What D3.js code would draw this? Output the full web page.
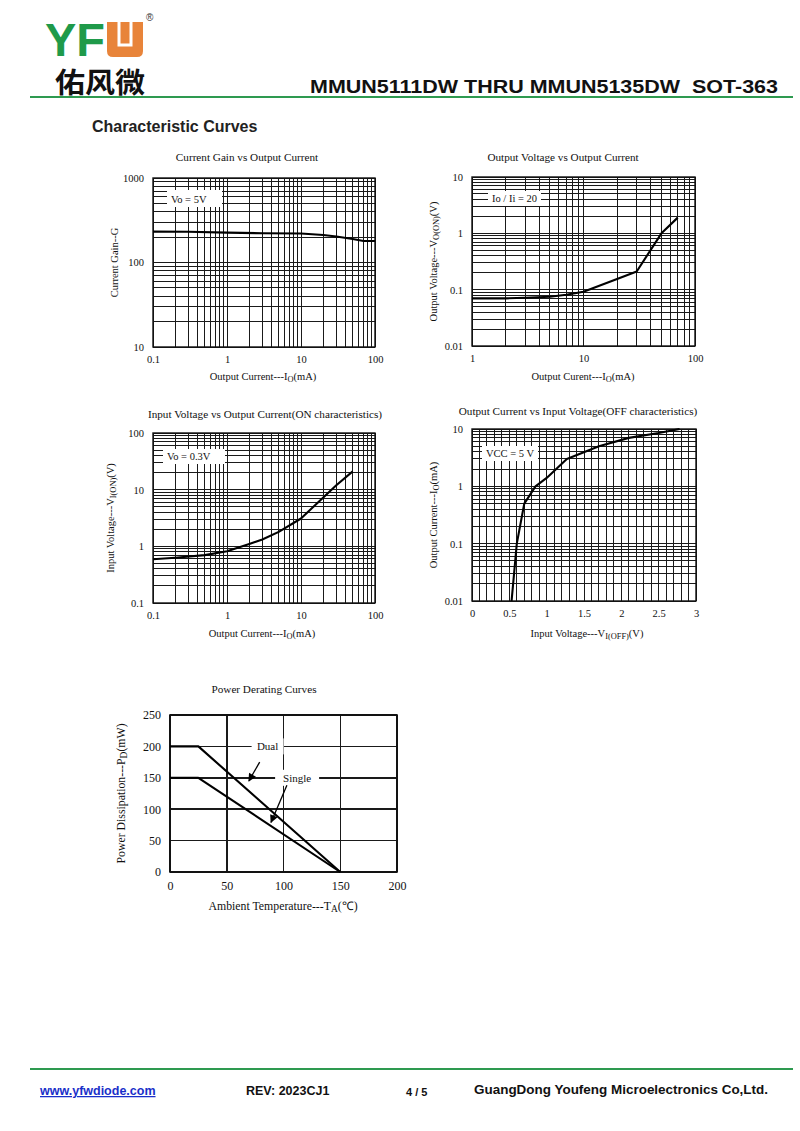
<!DOCTYPE html>
<html>
<head>
<meta charset="utf-8">
<script src="https://cdn.jsdelivr.net/npm/d3@7"></script>
<style>
  body { margin: 0; background: #fff; }
  svg { display: block; }
  .serif { font-family: "Liberation Serif", "Times New Roman", serif; }
  .sans { font-family: "Liberation Sans", Arial, sans-serif; }
</style>
</head>
<body>
<svg id="page" width="800" height="1131"></svg>
<script>
// ---- data ----
// 1) current gain vs output current (Vo = 5V)
const gainIo = [0.1, 0.3, 1, 3, 10, 20, 30, 50, 70, 100];
const gainHfe = [232, 231, 226, 222, 220, 212, 203, 190, 180, 180];

// 2) output voltage vs output current (Io/Ii = 20)
const vonIo = [1, 2, 3, 5, 7, 10, 20, 30, 50, 70];
const vonV = [0.07, 0.07, 0.072, 0.075, 0.081, 0.092, 0.155, 0.21, 1.0, 1.9];

// 3) input voltage vs output current, ON (Vo = 0.3V)
const vinIo = [0.1, 0.2, 0.5, 1, 2, 3, 5, 10, 20, 30, 50];
const vinV = [0.59, 0.63, 0.7, 0.82, 1.1, 1.32, 1.8, 3.1, 7.3, 12, 21];

// 4) output current vs input voltage, OFF (VCC = 5 V)
const offVin = [0.53, 0.6, 0.7, 0.85, 1.0, 1.27, 1.7, 2.1, 2.5, 2.78];
const offIo = [0.01, 0.1, 0.5, 1.0, 1.4, 3.0, 5.0, 7.0, 8.5, 10];

// 5) power derating
const tempTa = [0, 25, 150];
const dualPd = [200, 200, 0];
const singlePd = [150, 150, 0];
// annotation: label at (x,y), arrow from (x0,y0) to tip (x1,y1), in data units
const derNotes = [
  { text: "Dual", x: 86, y: 200, x0: 79, y0: 175, x1: 69.5, y1: 145 },
  { text: "Single", x: 112, y: 150, x0: 103, y0: 138, x1: 89, y1: 79 },
];

// tick labels
const logTicks1 = [0.1, 1, 10, 100];
const logTicksGain = [10, 100, 1000];
const logTicksX2 = [1, 10, 100];
const logTicksV = [0.01, 0.1, 1, 10];
const logTicksV3 = [0.1, 1, 10, 100];
const linTicksOff = [0, 0.5, 1, 1.5, 2, 2.5, 3];
const linTicksTa = [0, 50, 100, 150, 200];
const linTicksPd = [0, 50, 100, 150, 200, 250];

const svg = d3.select("#page");
svg.append("rect").attr("width", 800).attr("height", 1131).attr("fill", "#fff");

const fmt = (d) => String(d);

// text with subscript parts: [["text"], ["sub", true], ...]
function richText(g, parts, size) {
  const t = g.append("text").attr("class", "serif").attr("font-size", size).attr("fill", "#111");
  let sub = false;
  parts.forEach(([s, isSub]) => {
    const ts = t.append("tspan").text(s);
    if (isSub && !sub) ts.attr("dy", 2).attr("font-size", size * 0.8);
    if (!isSub && sub) ts.attr("dy", -2);
    sub = !!isSub;
  });
  return t;
}

function drawChart(c) {
  const [L, T, R, B] = c.box;
  const fs = c.fontSize || 10.5;
  const g = svg.append("g");
  const x = (c.xLog ? d3.scaleLog() : d3.scaleLinear()).domain(c.xDomain).range([L, R]);
  const y = (c.yLog ? d3.scaleLog() : d3.scaleLinear()).domain(c.yDomain).range([B, T]);

  // grid
  const xg = c.xGrid(x), yg = c.yGrid(y);
  g.append("g").selectAll("line").data(xg).join("line")
    .attr("x1", (d) => x(d)).attr("x2", (d) => x(d))
    .attr("y1", T).attr("y2", B)
    .attr("stroke", "#1a1a1a").attr("stroke-width", c.gridW)
    .attr("shape-rendering", "crispEdges");
  g.append("g").selectAll("line").data(yg).join("line")
    .attr("y1", (d) => y(d)).attr("y2", (d) => y(d))
    .attr("x1", L).attr("x2", R)
    .attr("stroke", "#1a1a1a").attr("stroke-width", c.gridW)
    .attr("shape-rendering", "crispEdges");
  g.append("rect").attr("x", L).attr("y", T).attr("width", R - L).attr("height", B - T)
    .attr("fill", "none").attr("stroke", "#111").attr("stroke-width", c.frameW);

  // legend box
  if (c.legend) {
    const lg = c.legend;
    g.append("rect").attr("x", L + lg.dx).attr("y", T + lg.dy)
      .attr("width", lg.w).attr("height", lg.h).attr("fill", "#fff");
    g.append("text").attr("class", "serif").attr("font-size", 10.5)
      .attr("x", L + lg.dx + 4).attr("y", T + lg.dy + lg.h - 4)
      .attr("fill", "#111").text(lg.text);
  }

  // curves
  const line = d3.line().x((d) => x(d[0])).y((d) => y(d[1]));
  c.series.forEach(([xs, ys]) => {
    g.append("path").datum(xs.map((v, i) => [v, ys[i]]))
      .attr("d", line).attr("fill", "none")
      .attr("stroke", "#000").attr("stroke-width", 2.1)
      .attr("stroke-linejoin", "round");
  });

  // axes (labels only)
  const xa = g.append("g").attr("transform", `translate(0,${B + 6})`)
    .call(d3.axisBottom(x).tickValues(c.xTicks).tickFormat(fmt).tickSize(0));
  const ya = g.append("g").attr("transform", `translate(${L - 6},0)`)
    .call(d3.axisLeft(y).tickValues(c.yTicks).tickFormat(fmt).tickSize(0));
  [xa, ya].forEach((a) => {
    a.select(".domain").remove();
    a.selectAll("text").attr("class", "serif").attr("font-size", c.tickSize || 10.5).attr("fill", "#111");
  });

  // title & axis labels
  g.append("text").attr("class", "serif").attr("font-size", 11.2).attr("fill", "#111")
    .attr("text-anchor", "middle").attr("x", c.title[1]).attr("y", c.title[2]).text(c.title[0]);
  richText(g, c.xLabel, fs).attr("text-anchor", "middle")
    .attr("x", c.xLabelPos[0]).attr("y", c.xLabelPos[1]);
  richText(g, c.yLabel, fs).attr("text-anchor", "middle")
    .attr("transform", `translate(${c.yLabelX},${(T + B) / 2}) rotate(-90)`);

  return { g, x, y };
}

const logGrid = (s) => s.ticks();

drawChart({
  box: [153, 178, 375, 347], xLog: true, yLog: true,
  xDomain: [0.1, 100], yDomain: [10, 1000],
  xGrid: logGrid, yGrid: logGrid, gridW: 1, frameW: 1.4,
  xTicks: logTicks1, yTicks: logTicksGain,
  series: [[gainIo, gainHfe]],
  legend: { text: "Vo = 5V", dx: 14, dy: 12, w: 55, h: 17 },
  title: ["Current Gain vs Output Current", 247, 161],
  xLabel: [["Output Current---I"], ["O", true], ["(mA)"]], xLabelPos: [263, 380],
  yLabel: [["Current Gain--G"]], yLabelX: 118,
});

drawChart({
  box: [472, 177, 695, 346], xLog: true, yLog: true,
  xDomain: [1, 100], yDomain: [0.01, 10],
  xGrid: logGrid, yGrid: logGrid, gridW: 1, frameW: 1.4,
  xTicks: logTicksX2, yTicks: logTicksV,
  series: [[vonIo, vonV]],
  legend: { text: "Io / Ii = 20", dx: 16, dy: 14, w: 53, h: 15 },
  title: ["Output Voltage vs Output Current", 563, 161],
  xLabel: [["Output Curent---I"], ["O", true], ["(mA)"]], xLabelPos: [583, 380],
  yLabel: [["Output Voltage---V"], ["O(ON)", true], ["(V)"]], yLabelX: 437,
});

drawChart({
  box: [153, 433, 375, 603], xLog: true, yLog: true,
  xDomain: [0.1, 100], yDomain: [0.1, 100],
  xGrid: logGrid, yGrid: logGrid, gridW: 1, frameW: 1.4,
  xTicks: logTicks1, yTicks: logTicksV3,
  series: [[vinIo, vinV]],
  legend: { text: "Vo = 0.3V", dx: 10, dy: 16, w: 62, h: 15 },
  title: ["Input Voltage vs Output Current(ON characteristics)", 265, 418],
  xLabel: [["Output Current---I"], ["O", true], ["(mA)"]], xLabelPos: [262, 637],
  yLabel: [["Input Voltage---V"], ["I(ON)", true], ["(V)"]], yLabelX: 114,
});

drawChart({
  box: [472, 429, 696, 601], xLog: false, yLog: true,
  xDomain: [0, 3], yDomain: [0.01, 10],
  xGrid: (s) => s.ticks(30), yGrid: logGrid, gridW: 1, frameW: 1.4,
  xTicks: linTicksOff, yTicks: logTicksV,
  series: [[offVin, offIo]],
  legend: { text: "VCC = 5 V", dx: 10, dy: 17, w: 56, h: 15 },
  title: ["Output Current vs Input Voltage(OFF characteristics)", 578, 415],
  xLabel: [["Input Voltage---V"], ["I(OFF)", true], ["(V)"]], xLabelPos: [587, 637],
  yLabel: [["Output Current---I"], ["O", true], ["(mA)"]], yLabelX: 437,
});

const der = drawChart({
  box: [170, 715, 397, 872], xLog: false, yLog: false,
  xDomain: [0, 200], yDomain: [0, 250],
  xGrid: () => linTicksTa, yGrid: () => linTicksPd, gridW: 1.5, frameW: 1.6,
  xTicks: linTicksTa, yTicks: linTicksPd, tickSize: 12, fontSize: 11.8,
  series: [[tempTa, dualPd], [tempTa, singlePd]],
  legend: null,
  title: ["Power Derating Curves", 264, 693],
  xLabel: [["Ambient Temperature---T"], ["A", true], ["(℃)"]], xLabelPos: [283, 910],
  yLabel: [["Power Dissipation---P"], ["D", true], ["(mW)"]], yLabelX: 125,
});

// derating annotations
svg.append("defs").append("marker").attr("id", "arrow")
  .attr("viewBox", "0 0 10 10").attr("refX", 9).attr("refY", 5)
  .attr("markerWidth", 9).attr("markerHeight", 8).attr("orient", "auto")
  .attr("markerUnits", "userSpaceOnUse")
  .append("path").attr("d", "M0,0L10,5L0,10Z").attr("fill", "#000");
derNotes.forEach((n) => {
  const tx = der.x(n.x), ty = der.y(n.y);
  const w = n.text.length * 6 + 8;
  der.g.append("rect").attr("x", tx - w / 2).attr("y", ty - 8).attr("width", w).attr("height", 16).attr("fill", "#fff");
  der.g.append("text").attr("class", "serif").attr("font-size", 11).attr("fill", "#111")
    .attr("text-anchor", "middle").attr("x", tx).attr("y", ty + 4).text(n.text);
  der.g.append("line")
    .attr("x1", der.x(n.x0)).attr("y1", der.y(n.y0))
    .attr("x2", der.x(n.x1)).attr("y2", der.y(n.y1))
    .attr("stroke", "#000").attr("stroke-width", 1.3)
    .attr("marker-end", "url(#arrow)");
});

// ---- page header ----
const head = svg.append("g");
head.append("text").attr("class", "sans").attr("font-weight", "bold")
  .attr("font-size", 46).attr("fill", "#1f9a4a")
  .attr("x", 45).attr("y", 56).attr("textLength", 60).attr("lengthAdjust", "spacingAndGlyphs")
  .text("YF");
head.append("path")
  .attr("d", "M107,22H143V51Q143,57 137,57H113Q107,57 107,51Z")
  .attr("fill", "#e8843a");
head.append("path")
  .attr("d", "M119,22V45H131V22")
  .attr("fill", "none").attr("stroke", "#fff").attr("stroke-width", 3);
head.append("text").attr("class", "sans").attr("font-size", 10).attr("fill", "#333")
  .attr("x", 146).attr("y", 21).text("®");
head.append("text").attr("font-family", '"Noto Sans CJK SC", sans-serif').attr("font-weight", "bold")
  .attr("font-size", 28).attr("fill", "#111")
  .attr("x", 55).attr("y", 93).attr("textLength", 90).attr("lengthAdjust", "spacingAndGlyphs")
  .text("佑风微");
head.append("text").attr("class", "sans").attr("font-weight", "bold")
  .attr("font-size", 18).attr("fill", "#111").style("white-space", "pre")
  .attr("x", 310).attr("y", 93).attr("textLength", 468).attr("lengthAdjust", "spacingAndGlyphs")
  .text("MMUN5111DW THRU MMUN5135DW  SOT-363");
head.append("line").attr("x1", 30).attr("x2", 793).attr("y1", 97).attr("y2", 97)
  .attr("stroke", "#2e9a50").attr("stroke-width", 2);
head.append("text").attr("class", "sans").attr("font-weight", "bold")
  .attr("font-size", 16).attr("fill", "#222")
  .attr("x", 92).attr("y", 132).text("Characteristic Curves");

// ---- footer ----
const foot = svg.append("g").attr("class", "sans").attr("font-weight", "bold");
foot.append("line").attr("x1", 30).attr("x2", 793).attr("y1", 1069).attr("y2", 1069)
  .attr("stroke", "#2e9a50").attr("stroke-width", 2);
foot.append("text").attr("x", 40).attr("y", 1095).attr("font-size", 12.5)
  .attr("fill", "#1a2fc9").attr("text-decoration", "underline").text("www.yfwdiode.com");
foot.append("text").attr("x", 246).attr("y", 1095).attr("font-size", 12.5).attr("fill", "#111").text("REV: 2023CJ1");
foot.append("text").attr("x", 406).attr("y", 1096).attr("font-size", 11).attr("fill", "#111").text("4 / 5");
foot.append("text").attr("x", 474).attr("y", 1094).attr("font-size", 12.5).attr("fill", "#111")
  .attr("textLength", 294).attr("lengthAdjust", "spacingAndGlyphs")
  .text("GuangDong Youfeng Microelectronics Co,Ltd.");
</script>
</body>
</html>
